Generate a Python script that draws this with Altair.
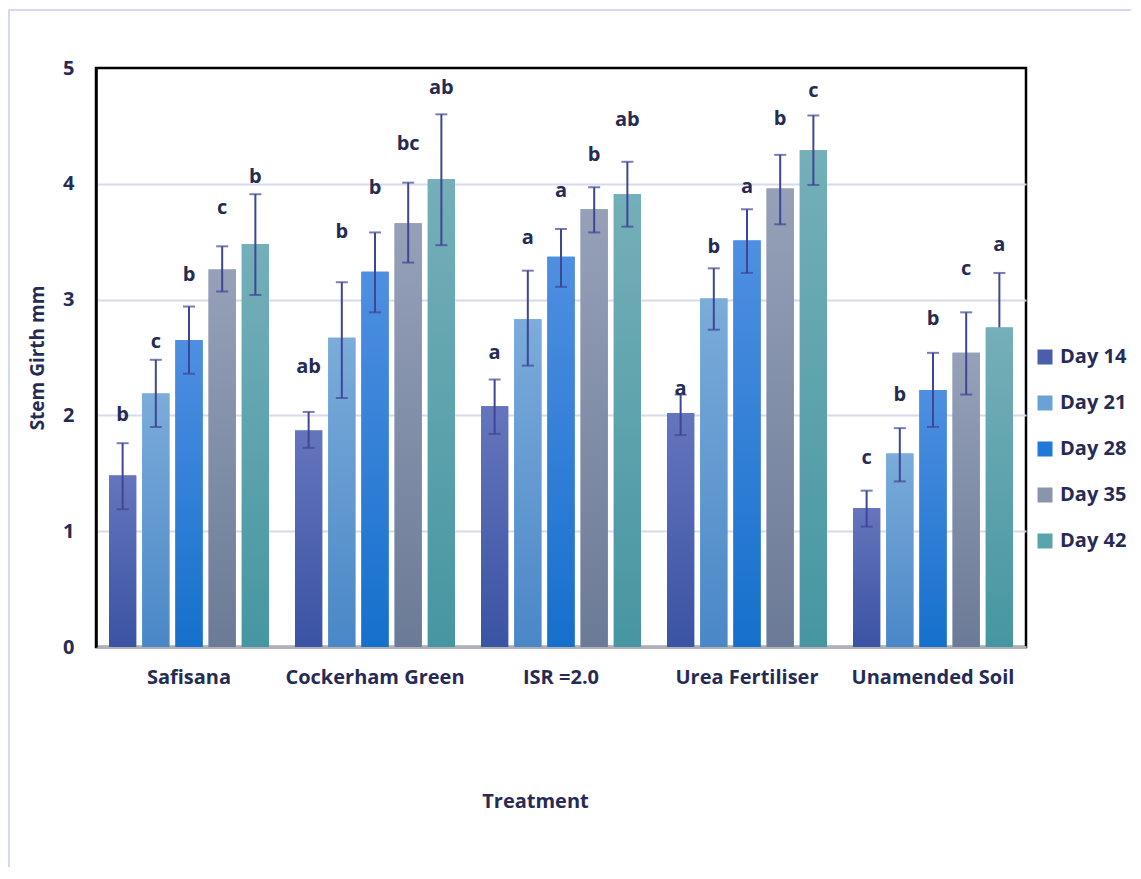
import altair as alt
import pandas as pd

treatments = ["Safisana", "Cockerham Green", "ISR =2.0", "Urea Fertiliser", "Unamended Soil"]
days = ["Day 14", "Day 21", "Day 28", "Day 35", "Day 42"]

# mean stem girth per day, in treatment order
mean_d14 = [1.48, 1.87, 2.08, 2.02, 1.20]
mean_d21 = [2.19, 2.67, 2.83, 3.01, 1.67]
mean_d28 = [2.65, 3.24, 3.37, 3.51, 2.22]
mean_d35 = [3.26, 3.66, 3.78, 3.96, 2.54]
mean_d42 = [3.48, 4.04, 3.91, 4.29, 2.76]

# error bar upper ends
up_d14 = [1.76, 2.03, 2.31, 2.18, 1.35]
up_d21 = [2.48, 3.15, 3.25, 3.27, 1.89]
up_d28 = [2.94, 3.58, 3.61, 3.78, 2.54]
up_d35 = [3.46, 4.01, 3.97, 4.25, 2.89]
up_d42 = [3.91, 4.60, 4.19, 4.59, 3.23]

# error bar lower ends
lo_d14 = [1.19, 1.72, 1.84, 1.83, 1.04]
lo_d21 = [1.90, 2.15, 2.43, 2.74, 1.43]
lo_d28 = [2.36, 2.89, 3.11, 3.23, 1.90]
lo_d35 = [3.07, 3.32, 3.58, 3.65, 2.18]
lo_d42 = [3.04, 3.47, 3.63, 3.99, 2.76]

# significance letters per treatment (Day 14 .. Day 42)
letters_safisana = ["b", "c", "b", "c", "b"]
letters_cockerham = ["ab", "b", "b", "bc", "ab"]
letters_isr = ["a", "a", "a", "b", "ab"]
letters_urea = ["a", "b", "a", "b", "c"]
letters_unamended = ["c", "b", "b", "c", "a"]

# heights (in mm) at which the letters sit
lab_safisana = [2.00, 2.63, 3.21, 3.79, 4.06]
lab_cockerham = [2.42, 3.58, 3.96, 4.34, 4.83]
lab_isr = [2.54, 3.53, 3.94, 4.25, 4.55]
lab_urea = [2.23, 3.45, 3.97, 4.56, 4.80]
lab_unamended = [1.63, 2.18, 2.83, 3.26, 3.47]

swatch = ["#4a5eac", "#6aa2d8", "#2078d8", "#8a94ac", "#5aa5ad"]
grad_top = ["#6575bd", "#7bacda", "#4f8fe1", "#96a1b9", "#75afb9"]
grad_bot = ["#3a53a3", "#4a87c7", "#1570cc", "#6b7a96", "#4696a1"]

means = [mean_d14, mean_d21, mean_d28, mean_d35, mean_d42]
ups = [up_d14, up_d21, up_d28, up_d35, up_d42]
los = [lo_d14, lo_d21, lo_d28, lo_d35, lo_d42]
letters = [letters_safisana, letters_cockerham, letters_isr, letters_urea, letters_unamended]
labs = [lab_safisana, lab_cockerham, lab_isr, lab_urea, lab_unamended]

rows = []
for di, d in enumerate(days):
    for ti, t in enumerate(treatments):
        rows.append({
            "Treatment": t, "Day": d,
            "mean": means[di][ti], "hi": ups[di][ti], "lo": los[di][ti],
            "letter": letters[ti][di], "laby": labs[ti][di],
        })
df = pd.DataFrame(rows)

TXT = "#262b55"
FONT = "Open Sans"

x_enc = alt.X("Treatment:N", sort=treatments, title="Treatment",
              scale=alt.Scale(paddingInner=0.14, paddingOuter=0.07),
              axis=alt.Axis(labelAngle=0, labelFontSize=20, labelFontWeight="bold",
                            labelColor=TXT, labelPadding=20, ticks=False,
                            domainColor="#b0b0ba", domainWidth=3,
                            titleFontSize=20, titleFontWeight="bold", titleColor=TXT,
                            titlePadding=104, titleX=439, grid=False))
xo_enc = alt.XOffset("Day:N", sort=days,
                     scale=alt.Scale(domain=days, paddingInner=0.18, paddingOuter=0.0))
y_scale = alt.Scale(domain=[0, 5], nice=False)

base = alt.Chart(df).encode(x=x_enc, xOffset=xo_enc)

flat = base.mark_bar().encode(
    y=alt.Y("mean:Q", scale=y_scale, title="Stem Girth mm",
            axis=alt.Axis(values=[0, 1, 2, 3, 4, 5], format="d", ticks=False,
                          labelFontSize=20, labelFontWeight="bold", labelColor=TXT,
                          labelPadding=22, domainColor="black", domainWidth=2.5,
                          gridColor="#d8d9ee", gridWidth=2,
                          gridOpacity={"condition": {"test": "datum.value >= 5 || datum.value <= 0",
                                                     "value": 0}, "value": 1},
                          titleFontSize=19, titleFontWeight="bold", titleColor=TXT,
                          titlePadding=15)),
    color=alt.Color("Day:N", sort=days,
                    scale=alt.Scale(domain=days, range=swatch),
                    legend=alt.Legend(title=None, orient="none", legendX=939, legendY=279,
                                      symbolType="square", symbolSize=225,
                                      symbolStrokeWidth=0, labelFontSize=20,
                                      labelFontWeight="bold", labelColor=TXT,
                                      labelOffset=5, rowPadding=26, padding=0)),
)

layers = [flat]
for d, ct, cb in zip(days, grad_top, grad_bot):
    g = alt.Gradient(gradient="linear",
                     stops=[alt.GradientStop(color=ct, offset=0),
                            alt.GradientStop(color=cb, offset=1)],
                     x1=0, x2=0, y1=0, y2=1)
    layers.append(
        base.transform_filter(alt.datum.Day == d)
        .mark_bar(fill=g, strokeWidth=0)
        .encode(y=alt.Y("mean:Q", scale=y_scale))
    )

ERR = "#3f4696"
err_line = base.mark_rule(color=ERR, strokeWidth=2).encode(
    y=alt.Y("lo:Q", scale=y_scale), y2="hi:Q")
cap_hi = base.mark_tick(color=ERR, size=12, thickness=2, orient="horizontal").encode(
    y=alt.Y("hi:Q", scale=y_scale))
cap_lo = base.transform_filter(alt.datum.lo < alt.datum.mean).mark_tick(
    color=ERR, size=12, thickness=2, orient="horizontal").encode(
    y=alt.Y("lo:Q", scale=y_scale))
txt = base.mark_text(fontSize=20, fontWeight="bold", color=TXT, baseline="middle",
                     font=FONT).encode(
    y=alt.Y("laby:Q", scale=y_scale), text="letter:N")

frame = alt.Chart(pd.DataFrame({"k": [0]})).mark_rect(
    fill=None, stroke="#d6d8ee", strokeWidth=2, clip=False).encode(
    x=alt.value(-87), x2=alt.value(1200), y=alt.value(-58), y2=alt.value(900))

chart = alt.layer(frame, *layers, err_line, cap_hi, cap_lo, txt).properties(
    width=930, height=579,
    autosize=alt.AutoSizeParams(type="none"),
    padding={"left": 88, "top": 60, "right": 105, "bottom": 220},
).configure(font=FONT).configure_view(stroke="black", strokeWidth=2.5)

chart.save("out.html", embed_options={"renderer": "svg", "actions": False})
